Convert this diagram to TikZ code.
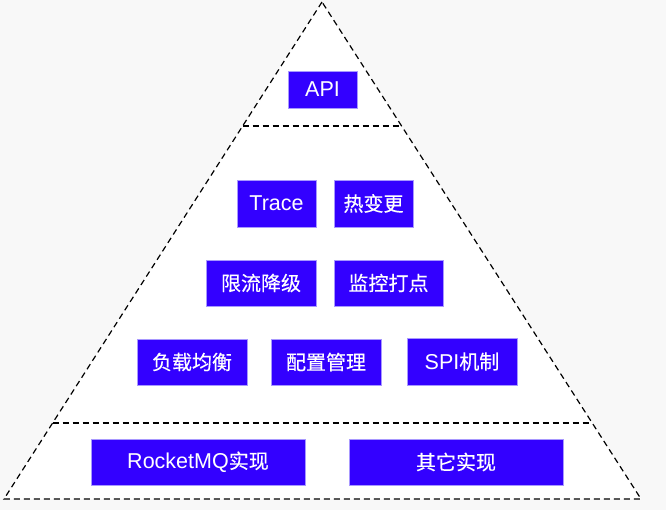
\documentclass[tikz,border=0pt]{standalone}
\usepackage{fontspec}
\setmainfont{Liberation Sans}
\newfontfamily\cjk[FakeBold=0.4]{Noto Sans CJK SC}
\newcommand\zhtxt[1]{{\cjk\fontsize{20}{24}\selectfont #1}}
\usetikzlibrary{calc}
\definecolor{boxblue}{HTML}{3300FF}
\definecolor{boxedge}{HTML}{A898FF}
\definecolor{bgcol}{HTML}{F8F8F8}
\begin{document}
\begin{tikzpicture}[x=1pt,y=-1pt,
  blk/.style={fill=boxblue, draw=boxedge, line width=0.6pt, text=white,
    font=\fontsize{21.5}{24}\selectfont, inner sep=0pt, anchor=center},
  dl/.style={draw=black, line width=1.2pt, dash pattern=on 6pt off 4pt, line join=miter}]
\fill[bgcol] (0,0) rectangle (666,510);
\useasboundingbox (0,0) rectangle (666,510);
\coordinate (A) at (322,2);
\coordinate (L) at (4,499);
\coordinate (R) at (641,499);
\fill[white] (A) -- (L) -- (R) -- cycle;
\draw[dl] (A) -- (L) -- (R) -- cycle;
\coordinate (t1l) at ($(A)!0.2495!(L)$);
\coordinate (t1r) at ($(A)!0.2495!(R)$);
\coordinate (t2l) at ($(A)!0.847!(L)$);
\coordinate (t2r) at ($(A)!0.847!(R)$);
\draw[dl] (t1l) -- (t1r);
\draw[dl] (t2l) -- (t2r);
\node[blk, minimum width=69pt, minimum height=37pt] (api) at (322.5,89.5) {API};
\node[blk, minimum width=79pt, minimum height=47pt] (trace) at (276.5,203.5) {Trace};
\node[blk, minimum width=79pt, minimum height=47pt] (hot) at (373.5,203.5) {\zhtxt{热变更}};
\node[blk, minimum width=110pt, minimum height=46pt] (limit) at (261,283) {\zhtxt{限流降级}};
\node[blk, minimum width=109pt, minimum height=46pt] (monitor) at (388.5,283) {\zhtxt{监控打点}};
\node[blk, minimum width=110pt, minimum height=46pt] (lb) at (192,362) {\zhtxt{负载均衡}};
\node[blk, minimum width=110pt, minimum height=46pt] (cfg) at (326,362) {\zhtxt{配置管理}};
\node[blk, minimum width=110pt, minimum height=47pt] (spi) at (462,361.5) {SPI\zhtxt{机制}};
\node[blk, minimum width=214pt, minimum height=46pt] (rmq) at (198,462) {RocketMQ\zhtxt{实现}};
\node[blk, minimum width=214pt, minimum height=46pt] (other) at (456,462) {\zhtxt{其它实现}};
\end{tikzpicture}
\end{document}
